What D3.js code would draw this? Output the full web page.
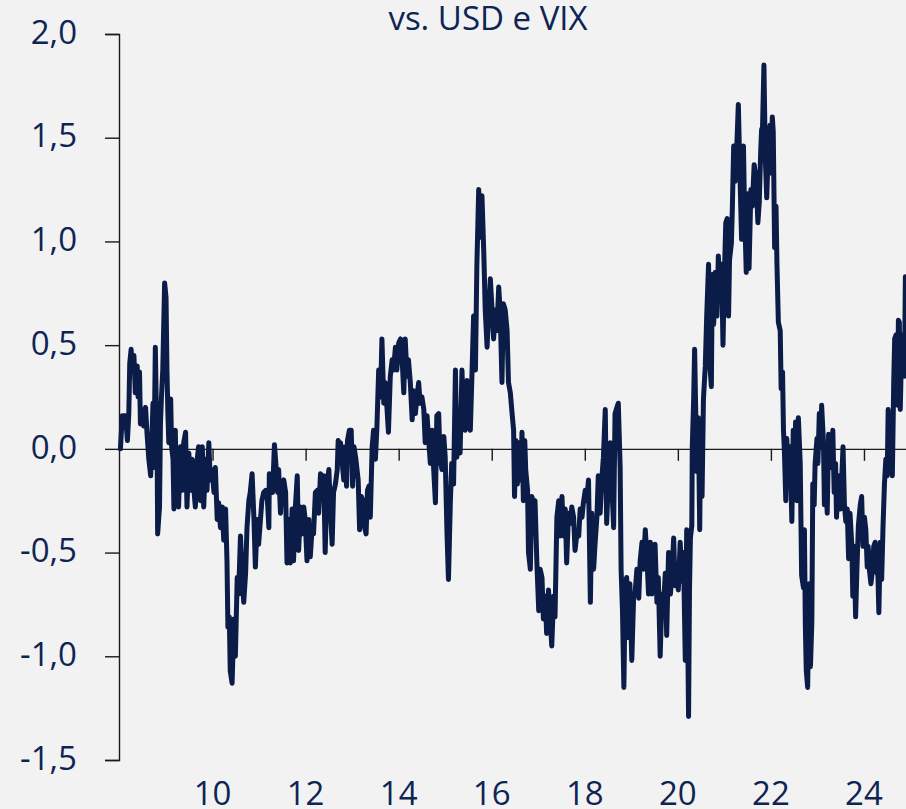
<!DOCTYPE html>
<html>
<head>
<meta charset="utf-8">
<script src="https://cdn.jsdelivr.net/npm/d3@7"></script>
<style>
	body { margin: 0; background: #f2f2f2; }
	svg { display: block; background: #f2f2f2; }
	text { font-family: "Open Sans", "Noto Sans", sans-serif; fill: #0e2453; }
</style>
</head>
<body>
<svg width="906" height="809"></svg>
<script>
// chart title (top is cut off in the original)
var title = "vs. USD e VIX";

// y axis ticks
var yTicks = [-1.5, -1.0, -0.5, 0.0, 0.5, 1.0, 1.5, 2.0];

// x axis ticks, years shown as two digits
var xTicks = [2010, 2012, 2014, 2016, 2018, 2020, 2022, 2024];
var xTickLabels = ["10", "12", "14", "16", "18", "20", "22", "24"];

// series: date as decimal year
var years = [
	2008.02, 2008.06, 2008.13, 2008.17, 2008.20, 2008.22, 2008.25, 2008.27, 2008.31, 2008.34,
	2008.38, 2008.40, 2008.43, 2008.45, 2008.49, 2008.52, 2008.56, 2008.59, 2008.63, 2008.67,
	2008.69, 2008.72, 2008.74, 2008.77, 2008.81, 2008.82, 2008.86, 2008.88, 2008.90, 2008.93,
	2008.97, 2009.00, 2009.02, 2009.04, 2009.06, 2009.10, 2009.12, 2009.15, 2009.17, 2009.20,
	2009.22, 2009.25, 2009.27, 2009.31, 2009.35, 2009.38, 2009.42, 2009.45, 2009.49, 2009.53,
	2009.56, 2009.60, 2009.63, 2009.67, 2009.70, 2009.74, 2009.78, 2009.81, 2009.85, 2009.88,
	2009.92, 2009.95, 2009.99, 2010.03, 2010.06, 2010.10, 2010.13, 2010.17, 2010.21, 2010.24,
	2010.28, 2010.31, 2010.33, 2010.36, 2010.38, 2010.42, 2010.46, 2010.49, 2010.53, 2010.56,
	2010.60, 2010.64, 2010.67, 2010.71, 2010.74, 2010.78, 2010.81, 2010.85, 2010.89, 2010.92,
	2010.96, 2010.99, 2011.03, 2011.06, 2011.10, 2011.14, 2011.17, 2011.21, 2011.22, 2011.26,
	2011.29, 2011.33, 2011.36, 2011.40, 2011.42, 2011.46, 2011.49, 2011.53, 2011.57, 2011.60,
	2011.64, 2011.67, 2011.71, 2011.74, 2011.78, 2011.82, 2011.85, 2011.89, 2011.92, 2011.96,
	2011.99, 2012.03, 2012.07, 2012.10, 2012.14, 2012.17, 2012.21, 2012.25, 2012.28, 2012.32,
	2012.35, 2012.39, 2012.42, 2012.46, 2012.50, 2012.53, 2012.57, 2012.60, 2012.64, 2012.68,
	2012.70, 2012.73, 2012.75, 2012.78, 2012.82, 2012.85, 2012.88, 2012.90, 2012.94, 2012.98,
	2013.01, 2013.04, 2013.08, 2013.13, 2013.16, 2013.20, 2013.23, 2013.27, 2013.30, 2013.33,
	2013.36, 2013.39, 2013.43, 2013.46, 2013.50, 2013.53, 2013.57, 2013.61, 2013.64, 2013.68,
	2013.71, 2013.75, 2013.78, 2013.82, 2013.86, 2013.89, 2013.93, 2013.96, 2014.00, 2014.04,
	2014.07, 2014.11, 2014.14, 2014.18, 2014.21, 2014.25, 2014.29, 2014.32, 2014.36, 2014.39,
	2014.43, 2014.46, 2014.50, 2014.54, 2014.57, 2014.61, 2014.64, 2014.68, 2014.72, 2014.75,
	2014.79, 2014.82, 2014.86, 2014.89, 2014.93, 2014.97, 2015.00, 2015.04, 2015.07, 2015.11,
	2015.14, 2015.18, 2015.22, 2015.25, 2015.29, 2015.32, 2015.36, 2015.40, 2015.43, 2015.47,
	2015.50, 2015.54, 2015.57, 2015.61, 2015.65, 2015.68, 2015.72, 2015.75, 2015.79, 2015.83,
	2015.86, 2015.90, 2015.93, 2015.97, 2016.00, 2016.04, 2016.08, 2016.11, 2016.15, 2016.18,
	2016.22, 2016.25, 2016.29, 2016.33, 2016.36, 2016.40, 2016.43, 2016.47, 2016.49, 2016.52,
	2016.55, 2016.59, 2016.63, 2016.65, 2016.68, 2016.71, 2016.73, 2016.77, 2016.79, 2016.83,
	2016.86, 2016.90, 2016.93, 2016.97, 2017.01, 2017.04, 2017.08, 2017.11, 2017.15, 2017.18,
	2017.22, 2017.26, 2017.29, 2017.33, 2017.36, 2017.40, 2017.44, 2017.47, 2017.51, 2017.54,
	2017.58, 2017.61, 2017.65, 2017.69, 2017.72, 2017.76, 2017.79, 2017.83, 2017.87, 2017.90,
	2017.94, 2017.97, 2018.01, 2018.04, 2018.08, 2018.12, 2018.15, 2018.19, 2018.22, 2018.26,
	2018.29, 2018.33, 2018.37, 2018.40, 2018.44, 2018.47, 2018.51, 2018.55, 2018.58, 2018.62,
	2018.65, 2018.69, 2018.72, 2018.76, 2018.78, 2018.81, 2018.84, 2018.87, 2018.90, 2018.94,
	2018.97, 2019.01, 2019.05, 2019.08, 2019.12, 2019.16, 2019.19, 2019.23, 2019.26, 2019.30,
	2019.33, 2019.37, 2019.41, 2019.44, 2019.48, 2019.51, 2019.55, 2019.58, 2019.62, 2019.66,
	2019.69, 2019.73, 2019.76, 2019.80, 2019.84, 2019.87, 2019.91, 2019.94, 2019.98, 2020.01,
	2020.05, 2020.09, 2020.12, 2020.16, 2020.19, 2020.23, 2020.25, 2020.27, 2020.30, 2020.31,
	2020.34, 2020.36, 2020.39, 2020.41, 2020.44, 2020.47, 2020.49, 2020.52, 2020.55, 2020.59,
	2020.62, 2020.66, 2020.69, 2020.72, 2020.74, 2020.77, 2020.80, 2020.84, 2020.87, 2020.91,
	2020.94, 2020.97, 2021.00, 2021.03, 2021.06, 2021.09, 2021.11, 2021.15, 2021.17, 2021.20,
	2021.23, 2021.27, 2021.30, 2021.34, 2021.37, 2021.41, 2021.43, 2021.47, 2021.50, 2021.53,
	2021.57, 2021.60, 2021.64, 2021.68, 2021.72, 2021.75, 2021.78, 2021.80, 2021.82, 2021.85,
	2021.88, 2021.91, 2021.95, 2021.98, 2022.00, 2022.03, 2022.05, 2022.08, 2022.11, 2022.13,
	2022.16, 2022.20, 2022.22, 2022.25, 2022.27, 2022.29, 2022.32, 2022.34, 2022.38, 2022.41,
	2022.45, 2022.48, 2022.51, 2022.53, 2022.56, 2022.59, 2022.63, 2022.66, 2022.70, 2022.72,
	2022.74, 2022.76, 2022.79, 2022.82, 2022.85, 2022.88, 2022.90, 2022.93, 2022.95, 2022.99,
	2023.01, 2023.04, 2023.07, 2023.09, 2023.13, 2023.15, 2023.18, 2023.21, 2023.24, 2023.27,
	2023.31, 2023.33, 2023.36, 2023.39, 2023.41, 2023.45, 2023.49, 2023.52, 2023.55, 2023.58,
	2023.61, 2023.64, 2023.67, 2023.70, 2023.74, 2023.76, 2023.79, 2023.82, 2023.85, 2023.88,
	2023.92, 2023.95, 2023.98, 2024.01, 2024.04, 2024.07, 2024.09, 2024.12, 2024.15, 2024.18,
	2024.21, 2024.24, 2024.27, 2024.30, 2024.32, 2024.35, 2024.38, 2024.41, 2024.44, 2024.47,
	2024.50, 2024.52, 2024.55, 2024.58, 2024.61, 2024.64, 2024.66, 2024.69, 2024.72, 2024.74,
	2024.76, 2024.78, 2024.81, 2024.84, 2024.87, 2024.89
];

var values = [
	0.00, 0.16, 0.16, 0.04, 0.17, 0.41, 0.48, 0.38, 0.45, 0.27,
	0.40, 0.25, 0.37, 0.12, 0.19, 0.11, 0.20, 0.08, -0.05, -0.13,
	0.01, 0.22, -0.09, 0.49, -0.05, -0.41, -0.28, 0.12, 0.24, 0.38,
	0.80, 0.73, 0.38, 0.17, 0.03, 0.24, 0.01, -0.05, -0.29, 0.09,
	-0.21, -0.12, -0.28, 0.01, -0.20, 0.03, 0.08, -0.28, -0.02, -0.20,
	-0.05, -0.20, -0.28, -0.05, 0.01, -0.25, 0.01, -0.28, -0.05, -0.20,
	0.03, -0.15, -0.10, -0.21, -0.09, -0.34, -0.26, -0.38, -0.28, -0.44,
	-0.29, -0.54, -0.86, -0.81, -1.07, -1.13, -0.82, -1.00, -0.62, -0.70,
	-0.42, -0.63, -0.74, -0.60, -0.38, -0.25, -0.21, -0.12, -0.34, -0.57,
	-0.34, -0.46, -0.34, -0.25, -0.21, -0.20, -0.21, -0.38, -0.12, -0.13,
	-0.21, 0.02, -0.07, -0.21, -0.10, -0.31, -0.17, -0.15, -0.21, -0.55,
	-0.34, -0.55, -0.29, -0.54, -0.28, -0.13, -0.49, -0.28, -0.41, -0.28,
	-0.34, -0.54, -0.34, -0.52, -0.38, -0.41, -0.21, -0.20, -0.31, -0.12,
	-0.21, -0.13, -0.50, -0.17, -0.10, -0.28, -0.46, -0.21, -0.17, -0.10,
	0.04, -0.02, 0.03, -0.05, -0.15, 0.01, -0.18, 0.04, 0.09, 0.09,
	-0.18, 0.01, -0.05, -0.15, -0.39, -0.23, -0.25, -0.38, -0.41, -0.20,
	-0.18, -0.33, 0.01, 0.09, -0.05, 0.09, 0.38, 0.25, 0.53, 0.22,
	0.32, 0.19, 0.08, 0.35, 0.43, 0.38, 0.49, 0.38, 0.51, 0.53,
	0.45, 0.27, 0.53, 0.35, 0.43, 0.32, 0.14, 0.28, 0.17, 0.25,
	0.32, 0.22, 0.25, 0.19, 0.03, 0.16, 0.06, -0.07, 0.09, -0.09,
	-0.26, 0.16, 0.17, -0.05, -0.10, 0.06, -0.04, -0.42, -0.63, -0.26,
	-0.07, -0.17, 0.38, -0.04, 0.19, -0.02, 0.38, 0.12, 0.09, 0.33,
	0.12, 0.09, 0.32, 0.64, 0.38, 0.88, 1.25, 1.02, 1.22, 0.94,
	0.67, 0.49, 0.64, 0.82, 0.70, 0.53, 0.67, 0.57, 0.78, 0.67,
	0.32, 0.70, 0.67, 0.57, 0.32, 0.27, 0.19, 0.09, -0.23, 0.04,
	-0.17, 0.03, -0.15, 0.08, -0.25, 0.04, -0.10, -0.20, -0.50, -0.58,
	-0.23, -0.26, -0.25, -0.55, -0.78, -0.58, -0.62, -0.82, -0.71, -0.89,
	-0.68, -0.84, -0.95, -0.71, -0.81, -0.33, -0.25, -0.42, -0.23, -0.42,
	-0.29, -0.55, -0.31, -0.36, -0.28, -0.33, -0.49, -0.41, -0.42, -0.29,
	-0.33, -0.26, -0.20, -0.25, -0.15, -0.74, -0.31, -0.58, -0.46, -0.33,
	-0.13, -0.31, -0.13, -0.04, 0.19, -0.36, -0.12, 0.03, -0.17, -0.38,
	0.17, 0.20, 0.22, -0.09, -0.58, -0.78, -1.15, -0.66, -0.62, -0.91,
	-0.65, -1.02, -0.71, -0.70, -0.58, -0.72, -0.54, -0.45, -0.58, -0.39,
	-0.50, -0.70, -0.45, -0.70, -0.58, -0.46, -0.74, -0.62, -1.00, -0.70,
	-0.76, -0.60, -0.90, -0.50, -0.70, -0.62, -0.43, -0.66, -0.58, -0.68,
	-0.45, -0.64, -0.50, -1.02, -0.39, -1.29, -0.68, -0.43, -0.37, 0.01,
	0.24, 0.48, 0.11, -0.11, 0.15, -0.39, 0.11, -0.23, 0.24, 0.40,
	0.64, 0.89, 0.40, 0.30, 0.84, 0.60, 0.85, 0.64, 0.93, 0.76,
	0.89, 0.50, 0.84, 1.09, 1.11, 0.64, 0.91, 0.99, 1.15, 1.46,
	1.29, 1.48, 1.66, 1.27, 1.01, 1.46, 1.19, 0.85, 1.23, 0.87,
	1.25, 1.17, 1.37, 1.31, 1.09, 1.19, 1.43, 1.54, 1.55, 1.85,
	1.40, 1.21, 1.49, 1.56, 1.33, 1.60, 1.53, 0.97, 1.17, 0.89,
	0.61, 0.57, 0.29, 0.37, 0.09, -0.01, -0.25, 0.05, -0.11, 0.01,
	-0.35, 0.09, -0.23, 0.13, -0.25, 0.15, -0.07, -0.61, -0.67, -0.39,
	-0.85, -1.07, -1.15, -0.65, -1.05, -0.83, -0.17, -0.27, -0.07, 0.05,
	-0.07, 0.17, 0.01, 0.21, 0.03, -0.27, -0.13, -0.31, 0.07, 0.05,
	-0.09, 0.09, -0.21, -0.07, -0.33, -0.13, -0.29, -0.15, 0.01, -0.27,
	-0.35, -0.29, -0.53, -0.31, -0.47, -0.71, -0.47, -0.81, -0.57, -0.37,
	-0.27, -0.23, -0.47, -0.33, -0.39, -0.57, -0.47, -0.59, -0.65, -0.59,
	-0.47, -0.45, -0.59, -0.61, -0.79, -0.45, -0.63, -0.37, -0.17, -0.05,
	-0.13, 0.19, -0.05, -0.01, -0.13, 0.33, 0.53, 0.55, 0.21, 0.62,
	0.61, 0.19, 0.49, 0.55, 0.35, 0.83
];

var svg = d3.select("svg"),
	width = +svg.attr("width"),
	height = +svg.attr("height");

var x = d3.scaleLinear()
	.domain([2008, 2025])
	.range([119.5, 910.5]);

var y = d3.scaleLinear()
	.domain([-1.5, 2.0])
	.range([760, 34]);

// comma decimals, plain hyphen for minus
var locale = d3.formatLocale({decimal: ",", thousands: ".", grouping: [3], currency: ["", ""], minus: "-"});
var fmt = locale.format(".1f");

// y axis
var yAxis = svg.append("g")
	.attr("class", "axis axis--y")
	.attr("transform", "translate(119,0)")
	.call(d3.axisLeft(y)
		.tickValues(yTicks)
		.tickSize(14)
		.tickSizeOuter(14)
		.tickPadding(28)
		.tickFormat(fmt));

yAxis.selectAll("path, line")
	.attr("stroke", "#1a1a1a")
	.attr("stroke-width", 1.4);
yAxis.selectAll("text")
	.attr("fill", "#0e2453")
	.attr("dy", "0.28em")
	.style("font-size", "33px")
	.style("font-family", "'Open Sans', 'Noto Sans', sans-serif");

// zero line with the year ticks hanging down
var xAxis = svg.append("g")
	.attr("class", "axis axis--x")
	.attr("transform", "translate(0," + y(0) + ")")
	.call(d3.axisBottom(x)
		.tickValues(xTicks)
		.tickSize(12)
		.tickSizeOuter(0)
		.tickFormat(""));

xAxis.selectAll("path, line")
	.attr("stroke", "#1a1a1a")
	.attr("stroke-width", 1.4);

// year labels sit at the very bottom, not next to the ticks
svg.append("g")
	.attr("class", "x-labels")
	.selectAll("text")
	.data(xTicks)
	.enter().append("text")
	.attr("x", function(d) { return x(d); })
	.attr("y", 805)
	.attr("text-anchor", "middle")
	.style("font-size", "33px")
	.text(function(d, i) { return xTickLabels[i]; });

// title, cut by the top edge
svg.append("text")
	.attr("x", 488)
	.attr("y", 30)
	.attr("text-anchor", "middle")
	.style("font-size", "33px")
	.text(title);

var data = years.map(function(d, i) { return {year: d, value: values[i]}; });

var line = d3.line()
	.x(function(d) { return x(d.year); })
	.y(function(d) { return y(d.value); });

svg.append("path")
	.datum(data)
	.attr("class", "line")
	.attr("fill", "none")
	.attr("stroke", "#0a1c47")
	.attr("stroke-width", 5)
	.attr("stroke-linejoin", "round")
	.attr("stroke-linecap", "round")
	.attr("d", line);
</script>
</body>
</html>
